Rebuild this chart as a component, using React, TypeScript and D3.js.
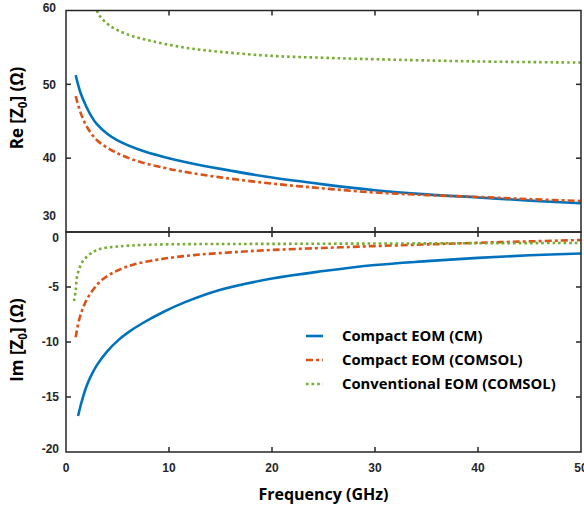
import * as d3 from "d3";

const W = 584;
const H = 509;
const X0 = 66;
const X1 = 581;
const TOP_Y0 = 10.5;
const MID_Y = 232;
const BOT_Y1 = 452;

const FREQ_TICKS = [0, 10, 20, 30, 40, 50];
const RE_TICKS = [60, 50, 40, 30];
const IM_TICKS = [0, -5, -10, -15, -20];

// [frequency GHz, ohms]
const RE_CM: [number, number][] = [
  [0.94, 51.25], [1.4, 48.9], [2.0, 46.9], [2.5, 45.6], [3.0, 44.6], [4.0, 43.3],
  [5.0, 42.4], [7.0, 41.2], [9.5, 40.15], [12, 39.35], [15, 38.55], [20, 37.37],
  [25, 36.45], [30, 35.66], [35, 35.1], [40, 34.68], [45, 34.25], [50, 33.9],
];
const RE_COMSOL: [number, number][] = [
  [0.94, 48.4], [1.43, 46.1], [2.07, 44.15], [3.04, 42.4], [4.66, 40.9],
  [6.93, 39.6], [9.52, 38.7], [11.3, 38.2], [15, 37.4], [20, 36.56],
  [25, 35.9], [30, 35.35], [35, 35.0], [40, 34.75], [45, 34.45], [50, 34.2],
];
const RE_CONV: [number, number][] = [
  [3.0, 60], [3.3, 59.2], [4.3, 57.9], [5.9, 56.8], [8.2, 55.9], [11.4, 55.0],
  [15, 54.4], [20, 53.85], [25, 53.6], [30, 53.4], [40, 53.1], [50, 52.95],
];
const IM_CM: [number, number][] = [
  [1.17, -16.73], [1.5, -15.5], [2.0, -14.0], [2.5, -12.95], [3.0, -12.1],
  [4.0, -10.85], [5.0, -9.9], [6.0, -9.15], [7.5, -8.25], [9.5, -7.25],
  [11.5, -6.4], [15, -5.25], [20, -4.23], [25, -3.55], [30, -3.0],
  [35, -2.65], [40, -2.35], [45, -2.12], [50, -1.95],
];
const IM_COMSOL: [number, number][] = [
  [0.94, -9.57], [1.26, -8.04], [1.75, -6.67], [2.4, -5.55], [3.5, -4.35],
  [5, -3.5], [6.6, -2.95], [9.2, -2.47], [12.4, -2.1], [16, -1.85], [20, -1.63],
  [25, -1.45], [30, -1.28], [35, -1.13], [40, -0.98], [45, -0.85], [50, -0.73],
];
const IM_CONV: [number, number][] = [
  [0.78, -6.28], [0.94, -5.3], [1.1, -3.93], [1.6, -2.71], [2.4, -1.95],
  [3.35, -1.53], [5, -1.32], [7.9, -1.16], [12.4, -1.1], [20, -1.08],
  [30, -1.05], [40, -1.02], [50, -1.0],
];

const SERIES = [
  { label: "Compact EOM (CM)", re: RE_CM, im: IM_CM, color: "#0072BD", dash: null, width: 2.6 },
  { label: "Compact EOM (COMSOL)", re: RE_COMSOL, im: IM_COMSOL, color: "#D95319", dash: "7,3,3,3", width: 2.6 },
  { label: "Conventional EOM (COMSOL)", re: RE_CONV, im: IM_CONV, color: "#77AC30", dash: "2.6,3", width: 2.6 },
];

const TICK_FONT = '"Liberation Sans", Arial, sans-serif';
const TITLE_FONT = '"Open Sans", "Noto Sans", sans-serif';
const INK = "#262626";

// label nudges, the figure shifts the edge labels off the shared border
const RE_LABEL_DY: Record<number, number> = { 60: -3, 30: -16 };
const IM_LABEL_DY: Record<number, number> = { 0: 6, [-20]: -3 };

export default function App() {
  const x = d3.scaleLinear().domain([0, 50]).range([X0, X1]);
  const yRe = d3.scaleLinear().domain([30, 60]).range([MID_Y, TOP_Y0]);
  const yIm = d3.scaleLinear().domain([-20, 0]).range([BOT_Y1, MID_Y]);

  const lineRe = d3
    .line<[number, number]>()
    .x((d) => x(d[0]))
    .y((d) => yRe(d[1]))
    .curve(d3.curveCatmullRom.alpha(0.5));
  const lineIm = d3
    .line<[number, number]>()
    .x((d) => x(d[0]))
    .y((d) => yIm(d[1]))
    .curve(d3.curveCatmullRom.alpha(0.5));

  const innerX = FREQ_TICKS.filter((t) => t > 0 && t < 50);
  const TL = 5;

  return (
    <div style={{ position: "absolute", left: 0, top: 0 }}>
      <svg width={W} height={H} style={{ display: "block", background: "#fff" }}>
        <defs>
          <clipPath id="clipRe">
            <rect x={X0} y={TOP_Y0} width={X1 - X0} height={MID_Y - TOP_Y0} />
          </clipPath>
          <clipPath id="clipIm">
            <rect x={X0} y={MID_Y} width={X1 - X0} height={BOT_Y1 - MID_Y} />
          </clipPath>
        </defs>

        {/* curves */}
        <g clipPath="url(#clipRe)">
          {SERIES.map((s) => (
            <path
              key={"re" + s.label}
              d={lineRe(s.re) || ""}
              fill="none"
              stroke={s.color}
              strokeWidth={s.width}
              strokeDasharray={s.dash || undefined}
            />
          ))}
        </g>
        <g clipPath="url(#clipIm)">
          {SERIES.map((s) => (
            <path
              key={"im" + s.label}
              d={lineIm(s.im) || ""}
              fill="none"
              stroke={s.color}
              strokeWidth={s.width}
              strokeDasharray={s.dash || undefined}
            />
          ))}
        </g>

        {/* frames */}
        <g fill="none" stroke={INK} strokeWidth={1.5}>
          <rect x={X0} y={TOP_Y0} width={X1 - X0} height={MID_Y - TOP_Y0} />
          <rect x={X0} y={MID_Y} width={X1 - X0} height={BOT_Y1 - MID_Y} />
          {innerX.map((t) => (
            <g key={"xt" + t}>
              <line x1={x(t)} x2={x(t)} y1={TOP_Y0} y2={TOP_Y0 + TL} />
              <line x1={x(t)} x2={x(t)} y1={MID_Y - TL} y2={MID_Y + TL} />
              <line x1={x(t)} x2={x(t)} y1={BOT_Y1} y2={BOT_Y1 - TL} />
            </g>
          ))}
          {RE_TICKS.filter((t) => t > 30 && t < 60).map((t) => (
            <g key={"rt" + t}>
              <line x1={X0} x2={X0 + TL} y1={yRe(t)} y2={yRe(t)} />
              <line x1={X1} x2={X1 - TL} y1={yRe(t)} y2={yRe(t)} />
            </g>
          ))}
          {IM_TICKS.filter((t) => t < 0 && t > -20).map((t) => (
            <g key={"it" + t}>
              <line x1={X0} x2={X0 + TL} y1={yIm(t)} y2={yIm(t)} />
              <line x1={X1} x2={X1 - TL} y1={yIm(t)} y2={yIm(t)} />
            </g>
          ))}
        </g>

        {/* tick labels */}
        <g fontFamily={TICK_FONT} fontWeight={700} fontSize={12} fill={INK}>
          {RE_TICKS.map((t) => (
            <text key={"rl" + t} x={56} y={yRe(t) + (RE_LABEL_DY[t] || 0)} dy="0.35em" textAnchor="end">
              {t}
            </text>
          ))}
          {IM_TICKS.map((t) => (
            <text key={"il" + t} x={59} y={yIm(t) + (IM_LABEL_DY[t] || 0)} dy="0.35em" textAnchor="end">
              {t}
            </text>
          ))}
          {FREQ_TICKS.map((t) => (
            <text key={"fl" + t} x={x(t)} y={472} textAnchor="middle">
              {t}
            </text>
          ))}
        </g>

        {/* axis titles */}
        <g fontFamily={TITLE_FONT} fontWeight={700} fontSize={16} fill="#000">
          <text x={(X0 + X1) / 2} y={500} textAnchor="middle">
            Frequency (GHz)
          </text>
          <g fontSize={17}>
            <text transform="translate(23,108) rotate(-90)" textAnchor="middle">
              Re [Z<tspan fontSize={11.5} dy={4}>0</tspan>
              <tspan dy={-4}>] (Ω)</tspan>
            </text>
            <text transform="translate(23,340) rotate(-90)" textAnchor="middle">
              Im [Z<tspan fontSize={11.5} dy={4}>0</tspan>
              <tspan dy={-4}>] (Ω)</tspan>
            </text>
          </g>
        </g>

        {/* legend */}
        <g fontFamily={TITLE_FONT} fontWeight={700} fontSize={14.8} fill="#000">
          {SERIES.map((s, i) => (
            <g key={"lg" + s.label} transform={`translate(306,${336 + i * 24})`}>
              <line
                x1={0}
                x2={17}
                y1={0}
                y2={0}
                stroke={s.color}
                strokeWidth={s.width}
                strokeDasharray={s.dash || undefined}
              />
              <text x={36} y={0} dy="0.35em">
                {s.label}
              </text>
            </g>
          ))}
        </g>
      </svg>
    </div>
  );
}
